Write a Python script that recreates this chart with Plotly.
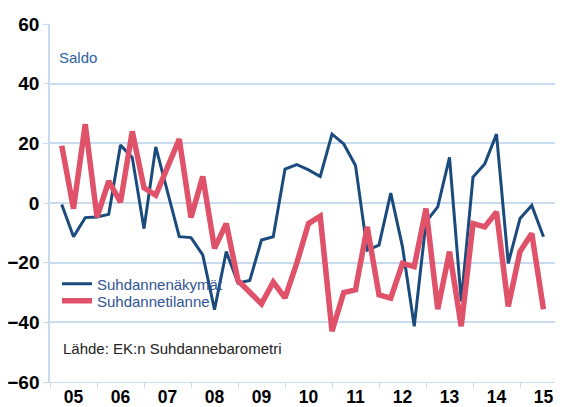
import plotly.graph_objects as go

# Quarterly data 2005Q1 .. 2015Q2
quarters = [f"{y}Q{q}" for y in range(2005, 2016) for q in range(1, 5)][:42]
nakymat = [-0.5, -11.3, -4.9, -4.7, -3.8, 19.4, 15.3, -8.6, 18.8, 3.8,
           -11.3, -11.6, -17.4, -35.8, -16.3, -26.8, -26.0, -12.4, -11.3, 11.4,
           12.9, 11.1, 8.9, 23.1, 19.8, 12.6, -15.8, -14.1, 3.3, -14.7,
           -41.3, -6.3, -1.3, 15.3, -33.0, 8.7, 13.1, 23.1, -20.2, -5.2,
           -0.8, -11.3]
tilanne = [19.2, -1.9, 26.4, -4.7, 7.3, 0.3, 24.0, 5.1, 2.6, 12.0,
           21.4, -4.9, 8.9, -15.2, -6.9, -26.0, -30.0, -33.8, -26.5, -31.8,
           -20.2, -6.9, -4.4, -43.0, -30.0, -29.1, -8.0, -30.8, -31.9, -20.2,
           -21.3, -1.9, -35.6, -16.3, -41.3, -6.9, -8.0, -3.0, -34.7, -16.3,
           -10.2, -35.6]
year_labels = ["05", "06", "07", "08", "09", "10", "11", "12", "13", "14", "15"]

def qpos(q):
    y, n = q.split("Q")
    return int(y) + int(n) * 0.25

xq = [qpos(q) for q in quarters]

GRID = "#c9dcef"
BLUE = "#1b4a7d"
RED = "#df5269"
LEGTXT = "#2f5592"
FONT = "Arial, Liberation Sans, sans-serif"

# page offset of 8px (default body margin) is compensated in the figure size
PW, PH = 555, 399
L, T, B = 42, 16, 25
plot_w = PW - L
plot_h = PH - T - B

def px(xpage):
    return (xpage - 8 - L) / plot_w

def py(ypage):
    return (PH - B - (ypage - 8)) / plot_h

fig = go.Figure()
fig.add_trace(go.Scatter(x=xq, y=nakymat, mode="lines", name="Suhdannenäkymät",
                         line=dict(color=BLUE, width=3), legend="legend"))
fig.add_trace(go.Scatter(x=xq, y=tilanne, mode="lines", name="Suhdannetilanne",
                         line=dict(color=RED, width=5.5), legend="legend2"))

leg_common = dict(xanchor="left", yanchor="middle", bgcolor="rgba(0,0,0,0)",
                  font=dict(size=15, color=LEGTXT), itemwidth=30)

fig.update_layout(
    width=PW, height=PH,
    margin=dict(l=L, r=0, t=T, b=B),
    paper_bgcolor="white", plot_bgcolor="white",
    font=dict(family=FONT),
    showlegend=True,
    legend=dict(x=px(57), y=py(284), **leg_common),
    legend2=dict(x=px(57), y=py(301), **leg_common),
    xaxis=dict(range=[2005, 2005 + plot_w / 47], showgrid=False, zeroline=False,
               showline=True, linecolor=GRID, linewidth=1,
               tickmode="array", tickvals=[2005.5 + i for i in range(11)],
               ticktext=year_labels, ticks="", automargin=False,
               ticklabelstandoff=-1,
               tickfont=dict(size=17.5, color="black", family=FONT, weight="bold"),
               minor=dict(tickmode="linear", tick0=2005, dtick=1, ticks="outside",
                          ticklen=5, tickcolor=GRID, showgrid=False)),
    yaxis=dict(range=[-60, 60], dtick=20, tick0=0, showgrid=True, gridcolor=GRID,
               gridwidth=1.5, zeroline=True, zerolinecolor=GRID, zerolinewidth=1.5,
               showline=True, linecolor=GRID, linewidth=1.5, ticks="outside",
               ticklen=5, tickcolor=GRID, automargin=False,
               tickfont=dict(size=19, color="black", family=FONT, weight="bold")),
    annotations=[
        dict(text="Saldo", x=px(57), y=py(57), xref="paper", yref="paper",
             xanchor="left", yanchor="middle", showarrow=False,
             font=dict(size=15, color="#2e62a3")),
        dict(text="Lähde: EK:n Suhdannebarometri", x=px(61), y=py(348),
             xref="paper", yref="paper", xanchor="left", yanchor="middle", showarrow=False,
             font=dict(size=15, color="#222222")),
    ],
)

fig.write_html("out.html")
